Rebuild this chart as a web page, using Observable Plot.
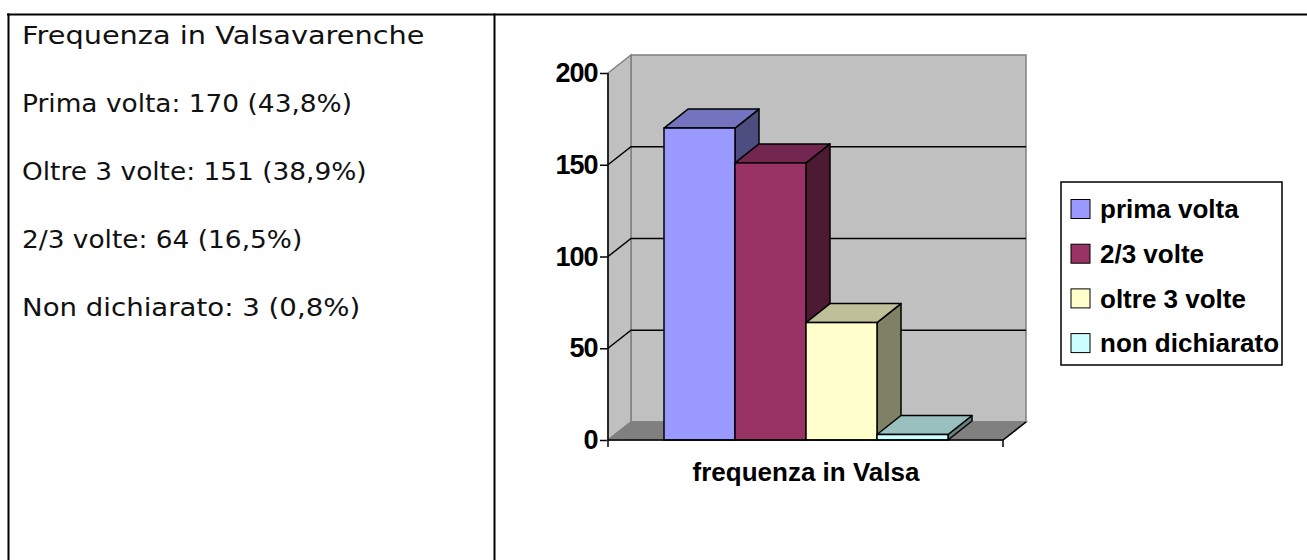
<!DOCTYPE html>
<html>
<head>
<meta charset="utf-8">
<script src="https://cdn.jsdelivr.net/npm/d3@7"></script>
<script src="https://cdn.jsdelivr.net/npm/@observablehq/plot@0.6"></script>
<style>
  html, body { margin: 0; padding: 0; background: #fff; }
  #page { position: relative; width: 1307px; height: 560px; overflow: hidden; background: #fff; }
  #bg { position: absolute; left: 0; top: 0; }
  #chart { position: absolute; left: 500px; top: 20px; }
  #chart svg { background: transparent !important; overflow: visible; }
</style>
</head>
<body>
<div id="page"><div id="chart"></div></div>
<script>
// ---------- data ----------
const series = ["prima volta", "2/3 volte", "oltre 3 volte", "non dichiarato"];
const values = [170, 151, 64, 3];
const frontColors = ["#9999FF", "#993366", "#FFFFCC", "#CCFFFF"];
const topColors = ["#7373BF", "#732650", "#BFBF99", "#99BFBF"];
const sideColors = ["#4D4D80", "#4D1A33", "#808066", "#668080"];
const yTicks = [0, 50, 100, 150, 200];
const gridTicks = [50, 100, 150];
const yMax = 200;
const categoryLabel = "frequenza in Valsa";
const title = "Frequenza in Valsavarenche";
const summaryLines = [
  "Prima volta: 170 (43,8%)",
  "Oltre 3 volte: 151 (38,9%)",
  "2/3 volte: 64 (16,5%)",
  "Non dichiarato: 3 (0,8%)"
];

const data = series.map((s, i) => ({series: s, value: values[i]}));

// ---------- page frame & left text ----------
const bg = d3.select("#page").insert("svg", "#chart")
  .attr("id", "bg").attr("width", 1307).attr("height", 560);
bg.append("line").attr("x1", 7).attr("x2", 1307).attr("y1", 14.5).attr("y2", 14.5)
  .attr("stroke", "#000").attr("stroke-width", 2);
bg.append("line").attr("x1", 8.5).attr("x2", 8.5).attr("y1", 13.5).attr("y2", 560)
  .attr("stroke", "#000").attr("stroke-width", 2);
bg.append("line").attr("x1", 494.5).attr("x2", 494.5).attr("y1", 13.5).attr("y2", 560)
  .attr("stroke", "#000").attr("stroke-width", 2);
const textStretch = [1.2, 1.1, 1.1, 1.1, 1.15];
[title, ...summaryLines].forEach((t, i) => {
  bg.append("text")
    .attr("transform", `translate(22,${44 + 68 * i}) scale(${textStretch[i]},1)`)
    .attr("font-family", "'DejaVu Sans', sans-serif")
    .attr("font-size", 24)
    .attr("fill", "#111")
    .text(t);
});

// ---------- 3D helpers ----------
const WDX = 23, WDY = -18;   // wall depth offset (px)
const BDX = 24, BDY = -19;   // bar depth offset (px)
const pts = a => a.map(p => p.join(",")).join(" ");

function walls(index, scales, vals, dim) {
  const y = scales.y;
  const x0 = dim.marginLeft, x1 = dim.width - dim.marginRight;
  const y0 = y(0), yt = y(yMax);
  const g = d3.create("svg:g");
  g.append("polygon").attr("points", pts([[x0 + WDX, yt + WDY], [x1 + WDX, yt + WDY], [x1 + WDX, y0 + WDY], [x0 + WDX, y0 + WDY]]))
    .attr("fill", "#C0C0C0").attr("stroke", "#808080").attr("stroke-width", 1.5);
  g.append("polygon").attr("points", pts([[x0, yt], [x0 + WDX, yt + WDY], [x0 + WDX, y0 + WDY], [x0, y0]]))
    .attr("fill", "#C0C0C0").attr("stroke", "#808080").attr("stroke-width", 1.5);
  g.append("polygon").attr("points", pts([[x0, y0], [x0 + WDX, y0 + WDY], [x1 + WDX, y0 + WDY], [x1, y0]]))
    .attr("fill", "#808080").attr("stroke", "#808080").attr("stroke-width", 1.5);
  for (const t of gridTicks) {
    g.append("polyline").attr("points", pts([[x0, y(t)], [x0 + WDX, y(t) + WDY], [x1 + WDX, y(t) + WDY]]))
      .attr("fill", "none").attr("stroke", "#000").attr("stroke-width", 1.5);
  }
  return g.node();
}

function barFaces(index, scales, vals, dim) {
  const {x, y} = scales;
  const bw = x.bandwidth ? x.bandwidth() : (dim.width - dim.marginLeft - dim.marginRight) / (series.length + 1.5);
  const g = d3.create("svg:g").attr("stroke", "#000").attr("stroke-width", 1.5).attr("stroke-linejoin", "round");
  data.forEach((d, i) => {
    const xl = x(d.series), xr = xl + bw, yt = y(d.value), yb = y(0);
    g.append("polygon").attr("points", pts([[xr, yt], [xr + BDX, yt + BDY], [xr + BDX, yb + BDY], [xr, yb]]))
      .attr("fill", sideColors[i]);
    g.append("polygon").attr("points", pts([[xl, yt], [xl + BDX, yt + BDY], [xr + BDX, yt + BDY], [xr, yt]]))
      .attr("fill", topColors[i]);
  });
  return g.node();
}

function axisLines(index, scales, vals, dim) {
  const y = scales.y;
  const x0 = dim.marginLeft, x1 = dim.width - dim.marginRight;
  const y0 = y(0), yt = y(yMax);
  const g = d3.create("svg:g").attr("stroke", "#000").attr("stroke-width", 1.5).attr("fill", "none");
  g.append("line").attr("x1", x0).attr("x2", x0).attr("y1", yt).attr("y2", y0 + 7);
  g.append("line").attr("x1", x0).attr("x2", x1).attr("y1", y0).attr("y2", y0);
  g.append("line").attr("x1", x1).attr("x2", x1 + WDX).attr("y1", y0).attr("y2", y0 + WDY);
  g.append("line").attr("x1", x1).attr("x2", x1).attr("y1", y0).attr("y2", y0 + 7);
  return g.node();
}

function legend(index, scales, vals, dim) {
  const lx = dim.width - dim.marginRight + 58, ly = 162, lw = 221, lh = 183;
  const g = d3.create("svg:g").attr("text-anchor", "start");
  g.append("rect").attr("x", lx).attr("y", ly).attr("width", lw).attr("height", lh)
    .attr("fill", "#fff").attr("stroke", "#000").attr("stroke-width", 1.5);
  series.forEach((s, i) => {
    const cy = ly + 27 + 44.7 * i;
    g.append("rect").attr("x", lx + 10).attr("y", cy - 9.5).attr("width", 19).attr("height", 19)
      .attr("fill", scales.color(s)).attr("stroke", "#000").attr("stroke-width", 1);
    g.append("text").attr("x", lx + 39).attr("y", cy).attr("dy", "0.35em")
      .attr("text-anchor", "start")
      .attr("font-size", 26).attr("font-weight", "bold").attr("fill", "#000").text(s);
  });
  return g.node();
}

const chart = Plot.plot({
  width: 800,
  height: 500,
  marginLeft: 108,
  marginRight: 297,
  marginTop: 53,
  marginBottom: 80,
  style: {fontFamily: "'Liberation Sans', Arial, sans-serif", fontSize: "26px", fontWeight: "bold", color: "#000", background: "transparent", overflow: "visible"},
  x: {type: "band", domain: series, paddingInner: 0, paddingOuter: 0.75, axis: null},
  y: {domain: [0, yMax], ticks: yTicks, tickSize: 8, tickPadding: 3, label: null},
  color: {domain: series, range: frontColors},
  marks: [
    walls,
    barFaces,
    Plot.barY(data, {x: "series", y: "value", fill: "series", stroke: "#000", strokeWidth: 1.5}),
    axisLines,
    Plot.text([categoryLabel], {frameAnchor: "bottom", lineAnchor: "top", dy: 22, fontSize: 26, fontWeight: "bold", fill: "#000"}),
    legend
  ]
});
document.getElementById("chart").appendChild(chart);

// axis styling tweaks
chart.querySelectorAll('[aria-label^="y-axis"]').forEach(g => {
  g.querySelectorAll("text").forEach(t => { t.setAttribute("letter-spacing", "-1"); t.setAttribute("font-size", "27"); });
  g.querySelectorAll("line, path").forEach(l => l.setAttribute("stroke-width", "1.5"));
});
</script>
</body>
</html>
